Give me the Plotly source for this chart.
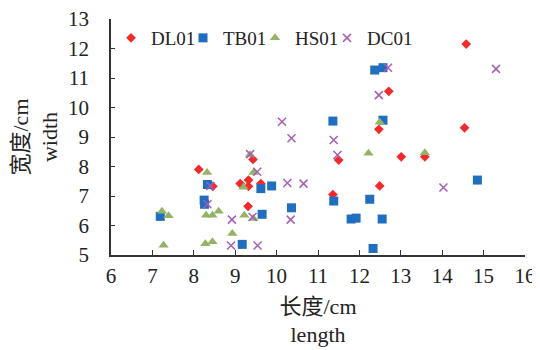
import plotly.graph_objects as go

# DL01
dl_x = [14.58, 12.71, 12.47, 14.54, 11.50, 13.01, 13.58, 12.49, 11.36, 9.43, 9.12, 9.32, 9.32, 9.62, 9.31, 8.12, 8.46]
dl_y = [12.15, 10.55, 9.26, 9.31, 8.22, 8.33, 8.33, 7.34, 7.05, 8.24, 7.42, 7.54, 7.33, 7.42, 6.65, 7.90, 7.33]
# TB01
tb_x = [12.37, 12.57, 11.36, 12.57, 11.38, 12.25, 11.80, 11.92, 12.55, 12.33, 14.85, 9.62, 9.88, 9.65, 10.36, 9.17, 8.33, 8.25, 8.26, 7.19]
tb_y = [11.27, 11.35, 9.54, 9.57, 6.83, 6.89, 6.22, 6.25, 6.22, 5.22, 7.54, 7.25, 7.34, 6.38, 6.60, 5.36, 7.39, 6.86, 6.72, 6.31]
# HS01
hs_x = [12.49, 12.22, 13.58, 9.36, 9.44, 9.20, 9.22, 9.44, 8.93, 8.32, 7.23, 7.39, 8.30, 8.45, 8.60, 7.27, 8.28, 8.45]
hs_y = [9.50, 8.45, 8.47, 8.40, 7.80, 7.30, 6.35, 6.24, 5.73, 7.80, 6.48, 6.33, 6.35, 6.35, 6.48, 5.33, 5.38, 5.45]
# DC01
dc_x = [12.69, 15.30, 12.47, 11.38, 11.47, 14.03, 10.36, 9.36, 9.53, 10.26, 10.65, 9.42, 10.34, 9.54, 8.92, 8.40, 8.33, 8.90, 10.13]
dc_y = [11.35, 11.31, 10.42, 8.90, 8.39, 7.29, 8.96, 8.42, 7.82, 7.44, 7.42, 6.29, 6.20, 5.32, 6.20, 7.34, 6.72, 5.32, 9.52]

x_ticks = [6, 7, 8, 9, 10, 11, 12, 13, 14, 15, 16]
y_ticks = [5, 6, 7, 8, 9, 10, 11, 12, 13]

FONT = '"Liberation Serif", "Noto Sans CJK SC", serif'
RED = "#F22A2A"
BLUE = "#1F6FBE"
GREEN = "#93B464"
PURPLE = "#A55FB5"

fig = go.Figure()
fig.add_trace(go.Scatter(x=dl_x, y=dl_y, mode="markers", name="DL01", legendwidth=27,
                         marker=dict(symbol="diamond", size=7.5, color=RED)))
fig.add_trace(go.Scatter(x=tb_x, y=tb_y, mode="markers", name="TB01", legendwidth=27,
                         marker=dict(symbol="square", size=9, color=BLUE)))
fig.add_trace(go.Scatter(x=hs_x, y=hs_y, mode="markers", name="HS01", legendwidth=27,
                         marker=dict(symbol="triangle-up", size=9, color=GREEN)))
fig.add_trace(go.Scatter(x=dc_x, y=dc_y, mode="markers", name="DC01", legendwidth=48,
                         marker=dict(symbol="x-thin", size=8, color=PURPLE,
                                     line=dict(color=PURPLE, width=1.5))))

# the page body adds an 8px offset, so margins are shifted to compensate
fig.update_layout(
    width=540, height=350,
    margin=dict(l=103, r=23, t=11, b=103, autoexpand=False),
    paper_bgcolor="white", plot_bgcolor="white",
    font=dict(family=FONT, size=21, color="#222"),
    showlegend=True,
    legend=dict(orientation="h", x=0.0, xanchor="left",
                y=1.0, yanchor="top",
                bgcolor="rgba(0,0,0,0)", font=dict(size=19, family=FONT),
                itemwidth=30),
    xaxis=dict(range=[6, 16], tickvals=x_ticks, ticktext=[str(v) for v in x_ticks],
               automargin=False, ticklabeloverflow="allow",
               showgrid=False, zeroline=False, showline=True, linecolor="#333", linewidth=2,
               ticks="inside", ticklen=5, tickcolor="#333", tickwidth=1.2,
               ticklabelstandoff=1, tickfont=dict(size=21, family=FONT),
               title=dict(text="长度/cm<br>length", standoff=11, font=dict(size=22, family=FONT))),
    yaxis=dict(range=[5, 13], tickvals=y_ticks, ticktext=[str(v) for v in y_ticks],
               automargin=False, ticklabeloverflow="allow",
               showgrid=False, zeroline=False, showline=True, linecolor="#333", linewidth=1.5,
               ticks="inside", ticklen=4, tickcolor="#333", tickwidth=1.2,
               ticklabelstandoff=16, tickfont=dict(size=21, family=FONT),
               title=dict(text="宽度/cm<br>width", standoff=10, font=dict(size=22, family=FONT))),
)

fig.write_html("out.html")
